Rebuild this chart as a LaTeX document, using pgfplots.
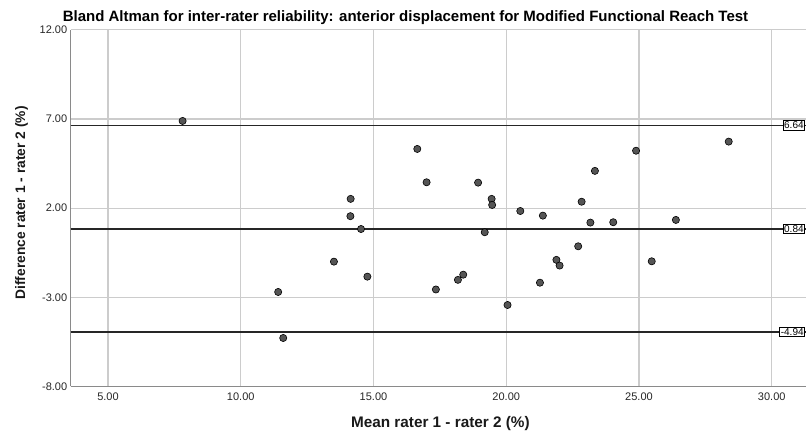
\documentclass[border=0pt]{standalone}
\usepackage{fontspec}
\setmainfont{Liberation Sans}
\usepackage{pgfplots}
\pgfplotsset{compat=1.18}
\definecolor{gridc}{HTML}{CCCCCC}
\definecolor{axisc}{HTML}{8A8A8A}
\definecolor{linec}{HTML}{262626}
\definecolor{markc}{HTML}{555555}
\begin{document}
\begin{tikzpicture}[x=1pt,y=1pt]
\useasboundingbox (0,0) rectangle (806,433);
\clip (0,0) rectangle (806,433);
\begin{axis}[
  at={(70.7pt,46.5pt)}, anchor=south west,
  scale only axis, width=743.5pt, height=356.7pt,
  xmin=3.595, xmax=31.6, ymin=-8, ymax=12,
  axis x line=bottom, axis y line=left,
  axis line style={-, draw=axisc, line width=1.5pt},
  xtick={5,10,15,20,25,30}, ytick={-8,-3,2,7,12},
  major tick length=0pt,
  grid=major, major grid style={draw=gridc, line width=1.2pt},
  tick label style={font=\fontsize{11}{13}\selectfont, text=black!85},
  xticklabel style={yshift=-3pt},
  /pgf/number format/fixed, /pgf/number format/fixed zerofill,
  /pgf/number format/precision=2, /pgf/number format/assume math mode=true,
  clip=false,
]
\addplot[linec, line width=1.5pt] coordinates {(3.595,6.64) (31.6,6.64)};
\addplot[linec, line width=1.5pt] coordinates {(3.595,0.84) (31.6,0.84)};
\addplot[linec, line width=1.5pt] coordinates {(3.595,-4.94) (31.6,-4.94)};
\addplot[only marks, mark=*, mark size=3.6pt, mark options={fill=markc, draw=black, line width=0.6pt}] table {
x y
7.81 6.89
11.41 -2.70
11.60 -5.28
13.51 -1.00
14.14 2.52
14.13 1.55
14.53 0.83
14.77 -1.84
16.65 5.32
17.00 3.45
17.35 -2.56
18.18 -2.02
18.38 -1.73
18.94 3.43
19.19 0.65
19.45 2.52
19.47 2.18
20.05 -3.43
20.53 1.84
21.27 -2.18
21.38 1.58
21.89 -0.90
22.01 -1.22
22.71 -0.14
22.84 2.36
23.17 1.19
23.34 4.09
24.03 1.21
24.89 5.22
25.48 -0.98
26.39 1.34
28.38 5.73
};
\node[draw=black, fill=white, line width=0.7pt, inner sep=1.2pt, anchor=east, font=\fontsize{10}{12}\selectfont] at (axis cs:31.26,6.64) {6.64};
\node[draw=black, fill=white, line width=0.7pt, inner sep=1.2pt, anchor=east, font=\fontsize{10}{12}\selectfont] at (axis cs:31.26,0.84) {0.84};
\node[draw=black, fill=white, line width=0.7pt, inner sep=1.2pt, anchor=east, font=\fontsize{10}{12}\selectfont] at (axis cs:31.26,-4.94) {-4.94};
\end{axis}
\node[font=\fontsize{15}{18}\selectfont\bfseries, anchor=base] at (405.5,411) {Bland Altman for inter-rater reliability: anterior displacement for Modified Functional Reach Test};
\node[font=\fontsize{15.3}{18}\selectfont\bfseries, text=black!90, anchor=base] at (440.4,5.3) {Mean rater 1 - rater 2 (\%)};
\node[font=\fontsize{13.8}{17}\selectfont\bfseries, text=black!90, rotate=90, anchor=base] at (25,230) {Difference rater 1 - rater 2 (\%)};
\end{tikzpicture}
\end{document}
